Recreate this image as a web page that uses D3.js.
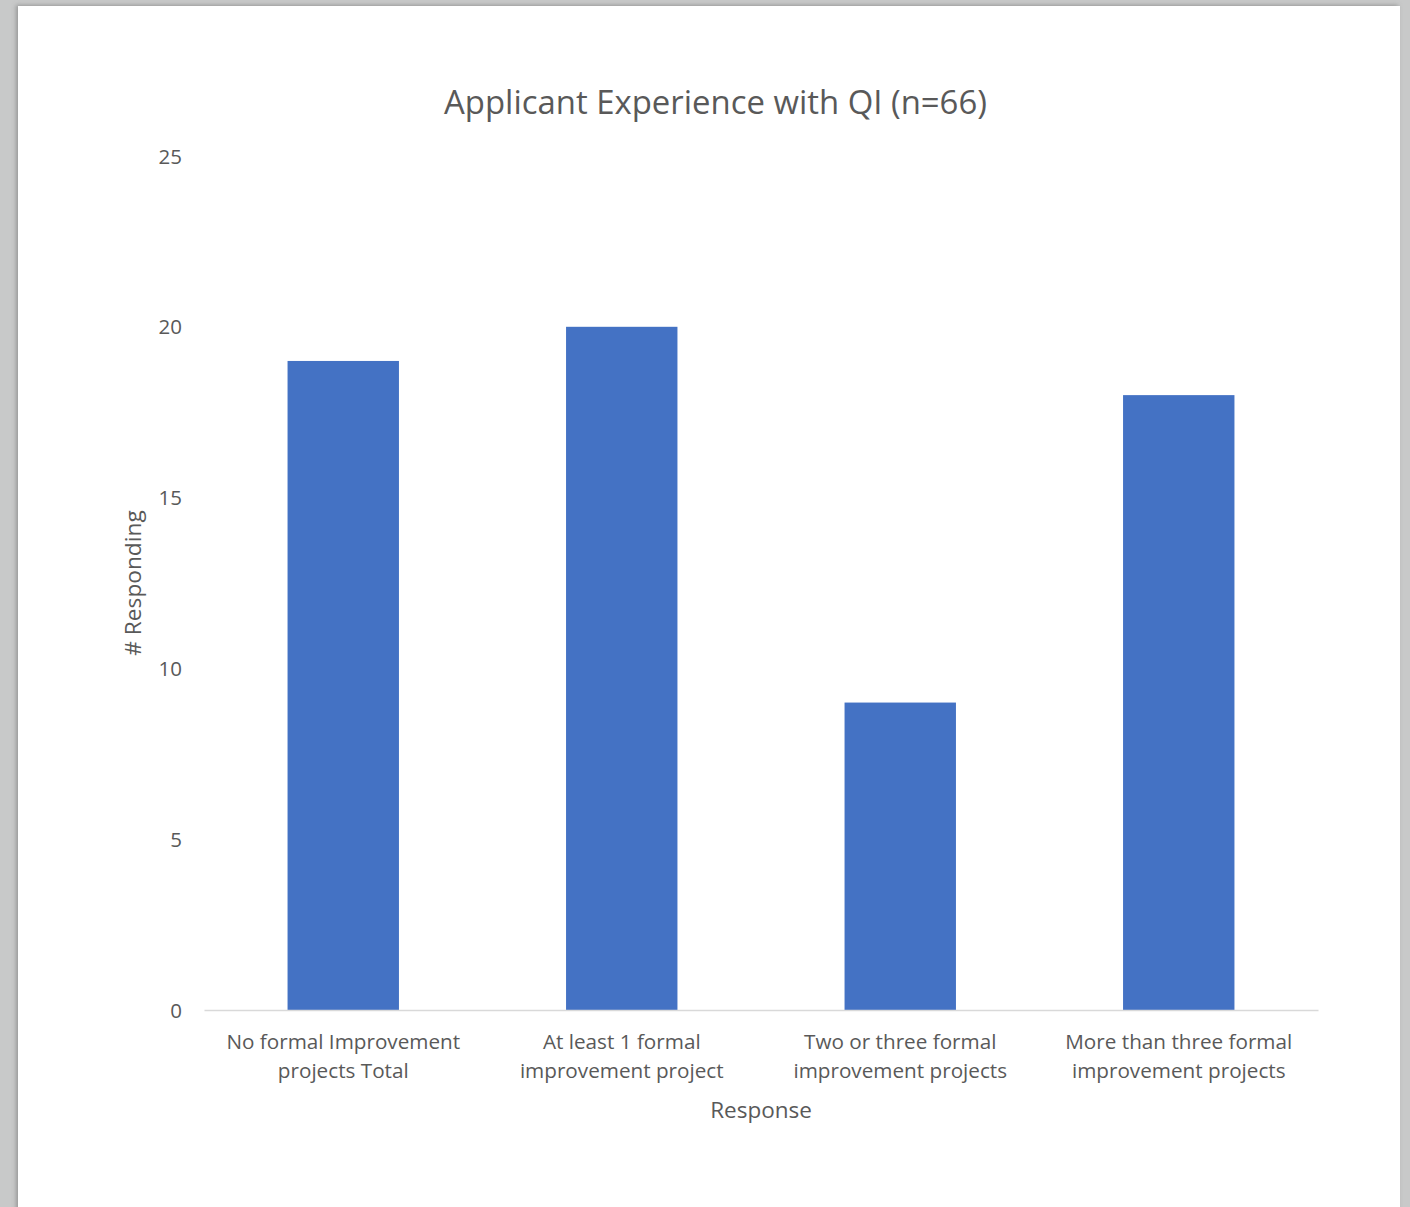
<!DOCTYPE html>
<html><head><meta charset="utf-8">
<script src="https://cdn.jsdelivr.net/npm/d3@7"></script>
<style>
html,body{margin:0;padding:0;background:#c8c9c9;}
svg{display:block;}
</style></head>
<body>
<svg id="chart" width="1410" height="1207"></svg>
<script>
const categories = [
  ["No formal Improvement", "projects Total"],
  ["At least 1 formal", "improvement project"],
  ["Two or three formal", "improvement projects"],
  ["More than three formal", "improvement projects"]
];
const values = [19, 20, 9, 18];
const yTicks = [0, 5, 10, 15, 20, 25];
const titleText = "Applicant Experience with QI (n=66)";
const xTitle = "Response";
const yTitle = "# Responding";

const FONT = "'Open Sans', 'Noto Sans', sans-serif";
const svg = d3.select("#chart");

// page background and shadow
const defs = svg.append("defs");
const f = defs.append("filter").attr("id","sh").attr("x","-5%").attr("y","-5%").attr("width","110%").attr("height","110%");
f.append("feDropShadow").attr("dx",-2).attr("dy",-1).attr("stdDeviation",2).attr("flood-color","#777").attr("flood-opacity",0.6);
svg.append("rect").attr("x",18).attr("y",6).attr("width",1382).attr("height",1220)
  .attr("fill","#fff").attr("filter","url(#sh)");

const plot = {left:204, right:1318, top:156, bottom:1010};
const x = d3.scaleBand().domain(d3.range(categories.length)).range([plot.left, plot.right]).paddingInner(0.6).paddingOuter(0.3);
const y = d3.scaleLinear().domain([0, 25]).range([plot.bottom, plot.top]);

// bars
svg.append("g").selectAll("rect").data(values).join("rect")
  .attr("x",(d,i)=>x(i)).attr("width",x.bandwidth())
  .attr("y",d=>y(d)).attr("height",d=>y(0)-y(d))
  .attr("fill","#4472C4");

// x axis
const xAxis = d3.axisBottom(x).tickSize(0).tickFormat("");
const gx = svg.append("g").attr("transform",`translate(0,${plot.bottom})`).call(xAxis);
gx.select(".domain").attr("stroke","#d9d9d9").attr("stroke-width",1.5);
gx.selectAll(".tick").each(function(d){
  const t = d3.select(this).append("text").attr("fill","#595959")
    .attr("font-family",FONT).attr("font-size",20.7).attr("text-anchor","middle");
  categories[d].forEach((line,j)=>{
    t.append("tspan").attr("x",0).attr("y",39 + j*29).text(line);
  });
});

// y axis
const yAxis = d3.axisLeft(y).tickValues(yTicks).tickSize(0).tickPadding(22);
const gy = svg.append("g").attr("transform",`translate(${plot.left},0)`).call(yAxis);
gy.select(".domain").remove();
gy.selectAll("text").attr("fill","#595959").attr("font-family",FONT).attr("font-size",20.5).attr("dy","0.35em");

// titles
svg.append("text").attr("x",715.5).attr("y",114).attr("text-anchor","middle")
  .attr("fill","#595959").attr("font-family",FONT).attr("font-size",32.9).text(titleText);
svg.append("text").attr("x",(plot.left+plot.right)/2).attr("y",1118).attr("text-anchor","middle")
  .attr("fill","#595959").attr("font-family",FONT).attr("font-size",22.5).text(xTitle);
svg.append("text").attr("transform",`translate(141,${(plot.top+plot.bottom)/2}) rotate(-90)`).attr("text-anchor","middle")
  .attr("fill","#595959").attr("font-family",FONT).attr("font-size",22.7).text(yTitle);
</script>
</body></html>
